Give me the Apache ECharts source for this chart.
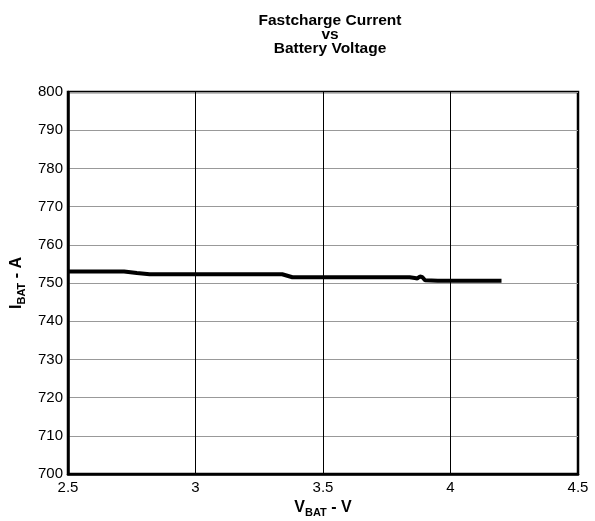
<!DOCTYPE html>
<html>
<head>
<meta charset="utf-8">
<script src="https://cdn.jsdelivr.net/npm/echarts@6/dist/echarts.min.js"></script>
<style>html,body{margin:0;padding:0;background:#fff}#c{width:595px;height:521px}</style>
</head>
<body>
<div id="c"></div>
<script>
const titleLines = ['Fastcharge Current', 'vs', 'Battery Voltage'];
const vbat = [2.5, 2.6, 2.72, 2.77, 2.82, 3.0, 3.2, 3.34, 3.38, 3.6, 3.84, 3.86, 3.87, 3.88, 3.89, 3.9, 3.95, 4.0, 4.1, 4.2];
const ibat = [753.0, 753.0, 753.0, 752.6, 752.3, 752.3, 752.3, 752.3, 751.5, 751.5, 751.5, 751.3, 751.2, 751.7, 751.5, 750.7, 750.6, 750.6, 750.6, 750.6];
const xTicks = {min: 2.5, max: 4.5, interval: 0.5};
const yTicks = {min: 700, max: 800, interval: 10};

const chart = echarts.init(document.getElementById('c'), null, {renderer: 'canvas'});
const font = 'Liberation Sans, Arial, sans-serif';
const nameRich = {
  a: {fontFamily: font, fontWeight: 'bold', fontSize: 16, color: '#000', verticalAlign: 'top', lineHeight: 18},
  s: {fontFamily: font, fontWeight: 'bold', fontSize: 11, color: '#000', verticalAlign: 'bottom', lineHeight: 18, padding: [7, 0, 0, 0]}
};
chart.setOption({
  animation: false,
  backgroundColor: '#fff',
  title: {
    text: titleLines.join('\n'),
    left: 325, top: 9, textAlign: 'center',
    textStyle: {fontFamily: font, fontWeight: 'bold', fontSize: 15.5, lineHeight: 14, color: '#000'}
  },
  grid: {left: 68, right: 17, top: 92, bottom: 47, show: true, borderColor: '#000', borderWidth: 2.5,
    backgroundColor: 'transparent', containLabel: false, outerBoundsMode: 'none'},
  xAxis: {
    type: 'value', min: xTicks.min, max: xTicks.max, interval: xTicks.interval,
    axisLine: {show: true, lineStyle: {color: '#000', width: 2.5}},
    axisTick: {show: false},
    axisLabel: {color: '#000', fontFamily: font, fontSize: 15, margin: 6,
      formatter: v => String(v)},
    splitLine: {show: true, lineStyle: {color: '#000', width: 1}},
    name: '{a|V}{s|BAT}{a| - V}', nameLocation: 'middle', nameGap: 26,
    nameTextStyle: {rich: nameRich}
  },
  yAxis: {
    type: 'value', min: yTicks.min, max: yTicks.max, interval: yTicks.interval,
    axisLine: {show: true, lineStyle: {color: '#000', width: 2.5}},
    axisTick: {show: false},
    axisLabel: {color: '#000', fontFamily: font, fontSize: 15, margin: 5},
    splitLine: {show: true, lineStyle: {color: '#999', width: 1}},
    name: '{a|I}{s|BAT}{a| - A}', nameLocation: 'middle', nameGap: 40, nameRotate: 90,
    nameTextStyle: {rich: nameRich}
  },
  series: [{
    type: 'line',
    data: vbat.map((v, i) => [v, ibat[i]]),
    showSymbol: false, symbol: 'none',
    lineStyle: {color: '#000', width: 4},
    z: 5
  }]
});
</script>
</body>
</html>
